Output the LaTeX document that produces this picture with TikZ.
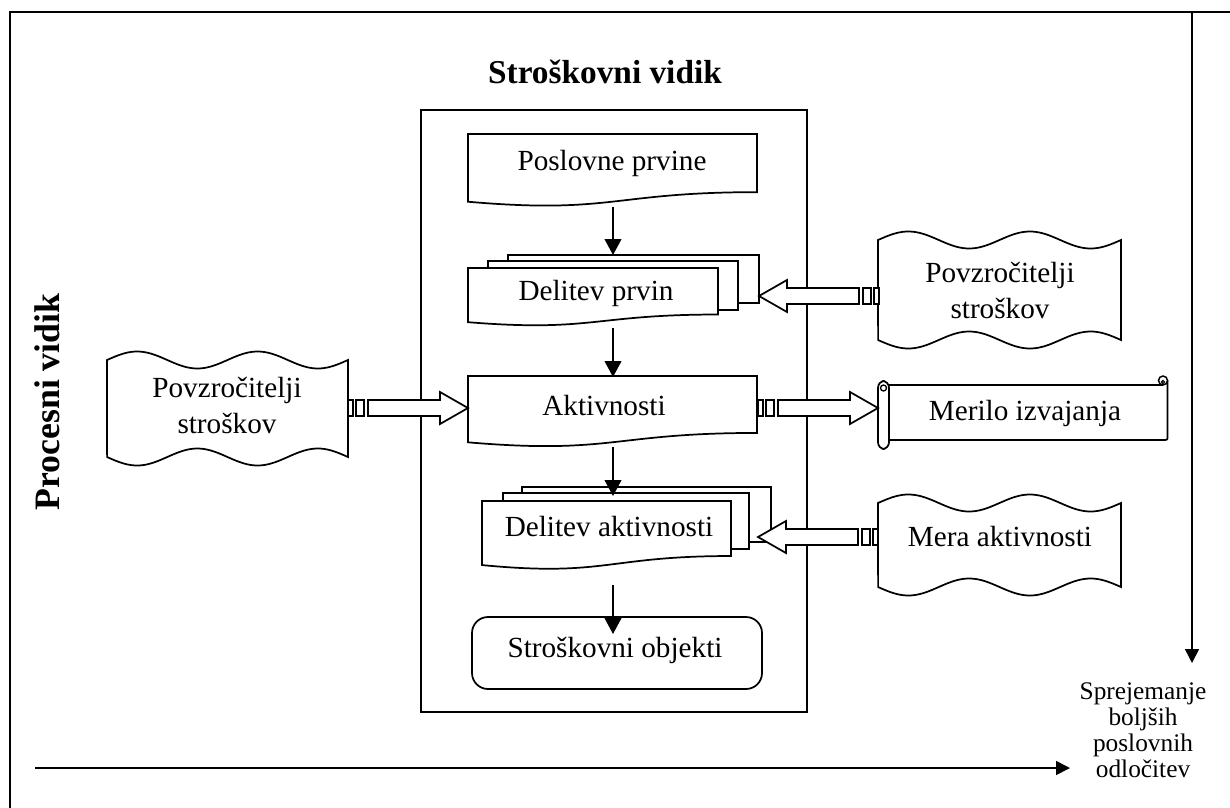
\documentclass[tikz,border=0pt]{standalone}
\usepackage{fontspec}
\setmainfont{Liberation Serif}
\usetikzlibrary{arrows.meta,calc}

% document shape: left, top, width, height
\newcommand{\docshape}[4]{%
  \draw[shapeline] (#1,#2) -- ({#1+#3},#2) -- ({#1+#3},{#2+0.802*#4})
    .. controls ({#1+0.5*#3},{#2+0.802*#4}) and ({#1+0.5*#3},{#2+1.1075*#4}) ..
    (#1,{#2+0.934*#4}) -- cycle;}

% double wave shape: left, right, top, bottom, amplitude
\newcommand{\dwave}[5]{%
  \draw[shapeline] plot[domain=0:1,samples=90] ({#1+(#2-#1)*\x},{#3-#5*sin(720*\x)})
    -- plot[domain=1:0,samples=90] ({#1+(#2-#1)*\x},{#4+#5*sin(720*\x)}) -- cycle;}

% striped block arrow: tip coordinate, direction (1 = right, -1 = left)
\newcommand{\stripearrow}[2]{%
  \begin{scope}[shift={(#1)}, xscale=#2]
    \draw[shapeline] (0,0) -- (-28,-16) -- (-28,-8) -- (-100,-8) -- (-100,8)
      -- (-28,8) -- (-28,16) -- cycle;
    \draw[shapeline] (-112,-8) rectangle (-104,8);
    \draw[shapeline] (-120,-8) rectangle (-115,8);
  \end{scope}}

\begin{document}
\begin{tikzpicture}[x=0.75pt,y=-0.75pt,
  shapeline/.style={draw=black, line width=1.3pt, fill=white, line join=miter},
  txt/.style={font=\fontsize{21.9}{27}\selectfont, align=center, inner sep=0pt},
  small/.style={font=\fontsize{19}{19.5}\selectfont, align=center, inner sep=0pt},
  heading/.style={font=\fontsize{25}{30}\selectfont\bfseries, inner sep=0pt},
  flow/.style={line width=1.5pt, -{Triangle[length=12pt,width=12.5pt]}},
  axis/.style={line width=1.2pt, -{Triangle[length=10.5pt,width=10.5pt]}}]
\useasboundingbox (0,0) rectangle (1230,807);

% outer frame
\draw[line width=1.5pt] (10,808) -- (10,12) -- (1232,12);

% headings
\node[heading] (cost) at (605,72) {Stroškovni vidik};
\node[heading, font=\fontsize{26.8}{30}\selectfont\bfseries, rotate=90] (process) at (47,402) {Procesni vidik};

% cost view container
\draw[line width=1.2pt] (421,110) rectangle (807,712);

% business resources
\docshape{468}{134}{289}{72.5}
\node[txt] (res) at (612,163) {Poslovne prvine};

% resource allocation (stacked documents)
\draw[shapeline] (508,255) rectangle (759,303);
\draw[shapeline] (488,261) rectangle (738,310);
\docshape{468}{268}{250}{58}
\node[txt] (resalloc) at (596,293) {Delitev prvin};

% activities
\docshape{468}{376}{289}{71}
\node[txt] (act) at (604,406) {Aktivnosti};

% activity allocation (stacked documents)
\draw[shapeline] (522,487) rectangle (771,542);
\draw[shapeline] (503,493) rectangle (749,549);
\docshape{482}{501}{249}{68.6}
\node[txt] (actalloc) at (609,527) {Delitev aktivnosti};

% cost objects
\draw[shapeline, rounded corners=12] (472,617) rectangle (762,689);
\node[txt] (obj) at (615,650) {Stroškovni objekti};

% cost drivers, left
\dwave{107}{348}{360}{457}{8.5}
\node[txt] (drvl) at (227,405) {Povzročitelji\\stroškov};

% cost drivers, right
\dwave{878}{1121}{240}{340}{8.5}
\node[txt] (drvr) at (1000,290) {Povzročitelji\\stroškov};

% activity measure
\dwave{878}{1121}{503}{587}{8.5}
\node[txt] (measure) at (1000,537) {Mera aktivnosti};

% performance measure (horizontal scroll)
\fill[white] (886,385) rectangle (1167,440);
\draw[line width=1.3pt] (886,385) -- (1163,385);
\draw[line width=1.3pt] (1167.5,380) -- (1167.5,436) .. controls (1167.5,440) .. (1163,440) -- (886,440);
\draw[line width=1.1pt, fill=white] (1163,380.5) circle[radius=4.5];
\draw[line width=0.9pt] (1163,382) circle[radius=1.6];
\draw[shapeline, rounded corners=5] (878,381) rectangle (889,449);
\draw[line width=1pt] (883.5,388) circle[radius=3];
\node[txt] (perf) at (1025,413) {Merilo izvajanja};

% flow connectors
\coordinate (resout) at (613,207);
\coordinate (resallocin) at (613,255);
\coordinate (resallocout) at (613,328);
\coordinate (actin) at (613,377);
\coordinate (actout) at (613,447);
\coordinate (actallocin) at (613,496);
\coordinate (actallocout) at (613,585);
\coordinate (objin) at (613,634);
\draw[flow] (resout) -- (resallocin);
\draw[flow] (resallocout) -- (actin);
\draw[flow] (actout) -- (actallocin);
\draw[flow] (actallocout) -- (objin);

% striped block arrows
\coordinate (drvltip) at (468,408);
\coordinate (perftip) at (878,408);
\coordinate (drvrtip) at (759,296);
\coordinate (measuretip) at (758,537);
\stripearrow{drvltip}{1}
\stripearrow{perftip}{1}
\stripearrow{drvrtip}{-1}
\stripearrow{measuretip}{-1}

% decision axes
\node[small] (decision) at (1143,730) {Sprejemanje\\boljših\\poslovnih\\odločitev};
\coordinate (vtop) at (1192,12);
\coordinate (vend) at (1192,663);
\coordinate (hstart) at (35,768);
\coordinate (hend) at (1070,768);
\draw[axis] (vtop) -- (vend);
\draw[axis] (hstart) -- (hend);
\end{tikzpicture}
\end{document}
